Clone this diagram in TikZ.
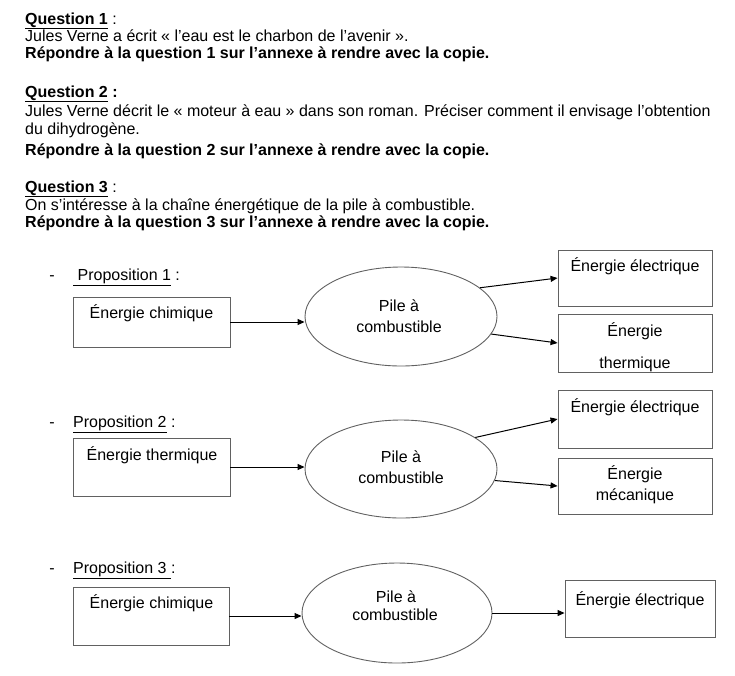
\documentclass[tikz,border=0pt]{standalone}
\usepackage{fontspec}
\setmainfont{Liberation Sans}
\usetikzlibrary{shapes.geometric,arrows.meta}

\tikzset{
  texte/.style={anchor=base west, inner sep=0pt},
  etiq/.style={anchor=base, inner sep=0pt},
  boite/.style={draw=black!62, line width=0.9pt, inner sep=0pt},
  pile/.style={draw=black!62, ellipse, line width=0.9pt, inner sep=0pt,
    minimum width=192pt, minimum height=99pt},
  fleche/.style={-{Triangle[length=7pt,width=6pt]}, line width=1pt},
}

\begin{document}
\begin{tikzpicture}[x=1pt, y=-1pt, font=\fontsize{16}{18}\selectfont]
\useasboundingbox (0,0) rectangle (735,675);

% Question 1
\node[texte] (q1) at (25, 24) {\textbf{\underline{Question 1}} :};
\node[texte] (q1a) at (25, 41.5) {Jules Verne a écrit « l’eau est le charbon de l’avenir ».};
\node[texte] (q1b) at (25, 58.5) {\textbf{Répondre à la question 1 sur l’annexe à rendre avec la copie.}};

% Question 2
\node[texte] (q2) at (25, 97) {\textbf{\underline{Question 2} :}};
\node[texte] (q2a) at (25, 116) {Jules Verne décrit le « moteur à eau » dans son roman. Préciser comment il envisage l’obtention};
\node[texte] (q2b) at (25, 134) {du dihydrogène.};
\node[texte] (q2c) at (25, 155) {\textbf{Répondre à la question 2 sur l’annexe à rendre avec la copie.}};

% Question 3
\node[texte] (q3) at (25, 192) {\textbf{\underline{Question 3}} :};
\node[texte] (q3a) at (25, 210) {On s’intéresse à la chaîne énergétique de la pile à combustible.};
\node[texte] (q3b) at (25, 227) {\textbf{Répondre à la question 3 sur l’annexe à rendre avec la copie.}};

% Proposition 1
\node[etiq] (t1) at (52, 280.5) {-};
\node[texte] (p1) at (73, 280.5) {\underline{\ Proposition 1}~:};
\node[boite, minimum width=157pt, minimum height=50pt] (chim1) at (151.5, 322) {};
\node[etiq] (chim1t) at (151.5, 318.5) {Énergie chimique};
\node[pile] (ell1) at (401, 316.5) {};
\node[etiq] (ell1a) at (399, 311.5) {Pile à};
\node[etiq] (ell1b) at (399, 332.5) {combustible};
\node[boite, minimum width=154pt, minimum height=56pt] (elec1) at (635, 278) {};
\node[etiq] (elec1t) at (635, 271.5) {Énergie électrique};
\node[boite, minimum width=154pt, minimum height=58pt] (therm1) at (635, 343) {};
\node[etiq] (therm1a) at (635, 336.5) {Énergie};
\node[etiq] (therm1b) at (635, 368.5) {thermique};
\draw[fleche] (chim1.east) -- (chim1.east -| ell1.west);
\draw[fleche] (ell1.20) -- (elec1.west);
\draw[fleche] (ell1.-11) -- (therm1.west);

% Proposition 2
\node[etiq] (t2) at (52, 427.5) {-};
\node[texte] (p2) at (73, 427.5) {\underline{Proposition 2}~:};
\node[boite, minimum width=157pt, minimum height=58pt] (therm2) at (151.5, 467) {};
\node[etiq] (therm2t) at (152, 460.5) {Énergie thermique};
\node[pile, minimum height=98pt] (ell2) at (401, 469) {};
\node[etiq] (ell2a) at (401, 462.5) {Pile à};
\node[etiq] (ell2b) at (401, 483.5) {combustible};
\node[boite, minimum width=154pt, minimum height=58pt] (elec2) at (635, 419) {};
\node[etiq] (elec2t) at (635, 412.5) {Énergie électrique};
\node[boite, minimum width=154pt, minimum height=56pt] (meca2) at (635, 486) {};
\node[etiq] (meca2a) at (635, 479.5) {Énergie};
\node[etiq] (meca2b) at (635, 500.5) {mécanique};
\draw[fleche] (therm2.east) -- (therm2.east -| ell2.west);
\draw[fleche] (ell2.23) -- (elec2.west);
\draw[fleche] (ell2.-7) -- (meca2.west);

% Proposition 3
\node[etiq] (t3) at (52, 573.5) {-};
\node[texte] (p3) at (73, 573.5) {\underline{Proposition 3\ }:};
\node[boite, minimum width=156pt, minimum height=58pt] (chim3) at (151, 616) {};
\node[etiq] (chim3t) at (151.5, 608.5) {Énergie chimique};
\node[pile, minimum width=190pt, minimum height=100pt] (ell3) at (397, 613) {};
\node[etiq] (ell3a) at (396, 602) {Pile à};
\node[etiq] (ell3b) at (395, 620.5) {combustible};
\node[boite, minimum width=150pt, minimum height=57pt] (elec3) at (640, 609) {};
\node[etiq] (elec3t) at (640, 605.5) {Énergie électrique};
\draw[fleche] (chim3.east) -- (chim3.east -| ell3.west);
\draw[fleche] (ell3.east) -- (ell3.east -| elec3.west);
\end{tikzpicture}
\end{document}
